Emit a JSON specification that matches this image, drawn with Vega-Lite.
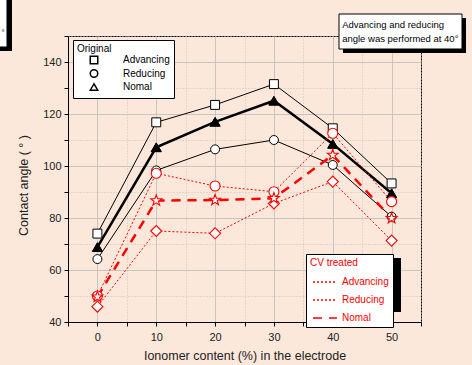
{
  "$schema": "https://vega.github.io/schema/vega-lite/v6.json",
  "width": 353,
  "height": 286,
  "autosize": "none",
  "padding": {"left": 68, "top": 36, "right": 51, "bottom": 43},
  "background": "#fce8da",
  "config": {
    "view": {"stroke": "black", "strokeWidth": 1, "fill": "#fce8da"},
    "font": "Liberation Sans"
  },
  "data": {
    "values": [
      {"g": "Original", "s": "Advancing", "x": 0, "y": 74.0},
      {"g": "Original", "s": "Advancing", "x": 10, "y": 116.8},
      {"g": "Original", "s": "Advancing", "x": 20, "y": 123.5},
      {"g": "Original", "s": "Advancing", "x": 30, "y": 131.5},
      {"g": "Original", "s": "Advancing", "x": 40, "y": 114.5},
      {"g": "Original", "s": "Advancing", "x": 50, "y": 93.3},
      {"g": "Original", "s": "Reducing", "x": 0, "y": 64.2},
      {"g": "Original", "s": "Reducing", "x": 10, "y": 98.3},
      {"g": "Original", "s": "Reducing", "x": 20, "y": 106.4},
      {"g": "Original", "s": "Reducing", "x": 30, "y": 110.0},
      {"g": "Original", "s": "Reducing", "x": 40, "y": 100.4},
      {"g": "Original", "s": "Reducing", "x": 50, "y": 80.5},
      {"g": "Original", "s": "Nomal", "x": 0, "y": 68.8},
      {"g": "Original", "s": "Nomal", "x": 10, "y": 107.2},
      {"g": "Original", "s": "Nomal", "x": 20, "y": 117.0},
      {"g": "Original", "s": "Nomal", "x": 30, "y": 125.1},
      {"g": "Original", "s": "Nomal", "x": 40, "y": 108.5},
      {"g": "Original", "s": "Nomal", "x": 50, "y": 89.5},
      {"g": "CV treated", "s": "Advancing", "x": 0, "y": 50.0},
      {"g": "CV treated", "s": "Advancing", "x": 10, "y": 97.2},
      {"g": "CV treated", "s": "Advancing", "x": 20, "y": 92.3},
      {"g": "CV treated", "s": "Advancing", "x": 30, "y": 90.1},
      {"g": "CV treated", "s": "Advancing", "x": 40, "y": 112.6},
      {"g": "CV treated", "s": "Advancing", "x": 50, "y": 86.3},
      {"g": "CV treated", "s": "Reducing", "x": 0, "y": 45.9},
      {"g": "CV treated", "s": "Reducing", "x": 10, "y": 75.0},
      {"g": "CV treated", "s": "Reducing", "x": 20, "y": 74.1},
      {"g": "CV treated", "s": "Reducing", "x": 30, "y": 85.6},
      {"g": "CV treated", "s": "Reducing", "x": 40, "y": 94.0},
      {"g": "CV treated", "s": "Reducing", "x": 50, "y": 71.3},
      {"g": "CV treated", "s": "Nomal", "x": 0, "y": 49.7},
      {"g": "CV treated", "s": "Nomal", "x": 10, "y": 86.7},
      {"g": "CV treated", "s": "Nomal", "x": 20, "y": 86.9},
      {"g": "CV treated", "s": "Nomal", "x": 30, "y": 87.6},
      {"g": "CV treated", "s": "Nomal", "x": 40, "y": 104.2},
      {"g": "CV treated", "s": "Nomal", "x": 50, "y": 79.9}
    ]
  },
  "layer": [
    {
      "transform": [{"filter": "datum.g === 'Original' && datum.s !== 'Nomal'"}],
      "mark": {"type": "line", "color": "black", "strokeWidth": 1},
      "encoding": {
        "x": {"field": "x", "type": "quantitative",
          "scale": {"domain": [-5, 55], "nice": false, "zero": false},
          "axis": {"values": [0, 10, 20, 30, 40, 50], "title": "Ionomer content (%) in the electrode",
            "grid": true, "gridColor": "#cbc5bf", "gridWidth": 1, "domainColor": "black", "tickColor": "black",
            "tickSize": 4, "labelFontSize": 11, "labelColor": "#222", "labelPadding": 5,
            "titleFontSize": 12.5, "titleFontWeight": "normal", "titleColor": "#222", "titlePadding": 7,
            "labelFont": "Liberation Sans", "titleFont": "Liberation Sans"}},
        "y": {"field": "y", "type": "quantitative",
          "scale": {"domain": [40, 150], "nice": false, "zero": false},
          "axis": {"values": [40, 60, 80, 100, 120, 140], "title": "Contact angle ( ° )",
            "grid": true, "gridColor": "#cbc5bf", "gridWidth": 1, "domainColor": "black", "tickColor": "black",
            "tickSize": 4, "labelFontSize": 11, "labelColor": "#222", "labelPadding": 3,
            "titleFontSize": 12.5, "titleFontWeight": "normal", "titleColor": "#222", "titlePadding": 12,
            "titleY": 149, "labelFont": "Liberation Sans", "titleFont": "Liberation Sans"}},
        "detail": {"field": "s"}
      }
    },
    {
      "transform": [{"filter": "datum.g === 'Original' && datum.s === 'Nomal'"}],
      "mark": {"type": "line", "color": "black", "strokeWidth": 2.5},
      "encoding": {
        "x": {"field": "x", "type": "quantitative", "axis": null},
        "y": {"field": "y", "type": "quantitative", "axis": null}
      }
    },
    {
      "transform": [{"filter": "datum.g === 'CV treated'"}],
      "mark": {"type": "line", "color": "#ff0000", "strokeWidth": 1},
      "encoding": {
        "x": {"field": "x", "type": "quantitative",
          "axis": {"orient": "bottom", "values": [-5, 5, 15, 25, 35, 45, 55], "title": null, "labels": false,
            "grid": true, "gridColor": "#c9c3bd", "gridDash": [1, 2], "domain": false, "tickColor": "black", "tickSize": 4}},
        "y": {"field": "y", "type": "quantitative",
          "axis": {"orient": "left", "values": [50, 70, 90, 110, 130, 150], "title": null, "labels": false,
            "grid": true, "gridColor": "#c9c3bd", "gridDash": [1, 2], "domain": false, "tickColor": "black", "tickSize": 4}},
        "strokeDash": {"field": "s", "type": "nominal", "sort": ["Advancing", "Reducing", "Nomal"],
          "scale": {"range": [[2, 2], [2, 2], [9, 7]]},
          "legend": {
            "title": "CV treated", "orient": "none", "legendX": 238, "legendY": 218,
            "fillColor": "white", "strokeColor": "black", "padding": 4,
            "titleFont": "Liberation Sans", "titleFontSize": 10, "titleFontWeight": "normal", "titleColor": "#ff0000", "titlePadding": 1,
            "labelFont": "Liberation Sans", "labelFontSize": 10, "labelColor": "#ff0000",
            "symbolSize": 576, "symbolStrokeWidth": 1.5, "symbolOffset": 2, "labelOffset": 4, "rowPadding": -19.5
          }}
      }
    },
    {
      "transform": [{"filter": "datum.g === 'CV treated' && datum.s === 'Nomal'"}],
      "mark": {"type": "line", "color": "#ff0000", "strokeWidth": 2.5, "strokeDash": [9, 7]},
      "encoding": {
        "x": {"field": "x", "type": "quantitative", "axis": null},
        "y": {"field": "y", "type": "quantitative", "axis": null}
      }
    },
    {
      "data": {"values": [{}]},
      "mark": {"type": "rect", "fill": "black"},
      "encoding": {
        "x": {"datum": -3.3, "type": "quantitative", "axis": null},
        "x2": {"datum": 11.83},
        "y": {"datum": 146.92, "type": "quantitative", "axis": null},
        "y2": {"datum": 126.54}
      }
    },
    {
      "data": {"values": [{}]},
      "mark": {"type": "rect", "fill": "black"},
      "encoding": {
        "x": {"datum": 36.13, "type": "quantitative", "axis": null},
        "x2": {"datum": 51.6},
        "y": {"datum": 64.6, "type": "quantitative", "axis": null},
        "y2": {"datum": 43.85}
      }
    },
    {
      "transform": [{"filter": "datum.g === 'Original'"}],
      "mark": {"type": "point", "filled": true, "fill": "white", "stroke": "black", "strokeWidth": 1, "opacity": 1, "size": 80},
      "encoding": {
        "x": {"field": "x", "type": "quantitative", "axis": null},
        "y": {"field": "y", "type": "quantitative", "axis": null},
        "shape": {"field": "s", "type": "nominal",
          "scale": {"domain": ["Advancing", "Reducing", "Nomal"], "range": ["square", "circle", "triangle-up"]},
          "legend": {
            "title": "Original", "orient": "none", "legendX": 5, "legendY": 4,
            "fillColor": "white", "strokeColor": "black", "padding": 4,
            "titleFont": "Liberation Sans", "titleFontSize": 10, "titleFontWeight": "normal", "titleColor": "black", "titlePadding": 1,
            "labelFont": "Liberation Sans", "labelFontSize": 10, "labelColor": "black",
            "symbolSize": 56, "symbolOffset": 12, "labelOffset": 24, "rowPadding": -0.5
          }}
      }
    },
    {
      "transform": [{"filter": "datum.g === 'Original' && datum.s === 'Nomal'"}],
      "mark": {"type": "point", "shape": "triangle-up", "filled": true, "fill": "black", "stroke": "black", "strokeWidth": 1, "opacity": 1, "size": 105},
      "encoding": {
        "x": {"field": "x", "type": "quantitative", "axis": null},
        "y": {"field": "y", "type": "quantitative", "axis": null}
      }
    },
    {
      "transform": [{"filter": "datum.g === 'CV treated' && datum.s === 'Advancing'"}],
      "mark": {"type": "point", "shape": "circle", "filled": true, "fill": "white", "stroke": "#ff0000", "strokeWidth": 1.1, "size": 100, "opacity": 1},
      "encoding": {
        "x": {"field": "x", "type": "quantitative", "axis": null},
        "y": {"field": "y", "type": "quantitative", "axis": null}
      }
    },
    {
      "transform": [{"filter": "datum.g === 'CV treated' && datum.s === 'Reducing'"}],
      "mark": {"type": "point", "shape": "diamond", "filled": true, "fill": "white", "stroke": "#ff0000", "strokeWidth": 1.1, "size": 121, "opacity": 1},
      "encoding": {
        "x": {"field": "x", "type": "quantitative", "axis": null},
        "y": {"field": "y", "type": "quantitative", "axis": null}
      }
    },
    {
      "transform": [{"filter": "datum.g === 'CV treated' && datum.s === 'Nomal'"}],
      "mark": {"type": "point", "shape": "M0,-1L0.235,-0.324L0.951,-0.309L0.38,0.124L0.588,0.809L0,0.4L-0.588,0.809L-0.38,0.124L-0.951,-0.309L-0.235,-0.324Z", "filled": true, "fill": "white", "stroke": "#ff0000", "strokeWidth": 1.1, "size": 130, "opacity": 1},
      "encoding": {
        "x": {"field": "x", "type": "quantitative", "axis": null},
        "y": {"field": "y", "type": "quantitative", "axis": null}
      }
    },
    {
      "data": {"values": [{}]},
      "mark": {"type": "rect", "fill": "black"},
      "encoding": {
        "x": {"datum": 41.74, "type": "quantitative", "axis": null},
        "x2": {"datum": 62.65},
        "y": {"datum": 156.92, "type": "quantitative", "axis": null},
        "y2": {"datum": 143.46}
      }
    },
    {
      "data": {"values": [{}]},
      "mark": {"type": "rect", "fill": "white", "stroke": "black", "strokeWidth": 1},
      "encoding": {
        "x": {"datum": 41.06, "type": "quantitative", "axis": null},
        "x2": {"datum": 61.97},
        "y": {"datum": 158.46, "type": "quantitative", "axis": null},
        "y2": {"datum": 145.0}
      }
    },
    {
      "data": {"values": [{}]},
      "mark": {"type": "text", "align": "left", "baseline": "alphabetic", "fontSize": 9.5, "lineHeight": 13.6, "font": "Liberation Sans", "color": "black",
        "text": ["Advancing and reducing", "angle was performed at 40°"]},
      "encoding": {
        "x": {"datum": 41.6, "type": "quantitative", "axis": null},
        "y": {"datum": 153.1, "type": "quantitative", "axis": null}
      }
    },
    {
      "data": {"values": [{}]},
      "mark": {"type": "rect", "fill": "black"},
      "encoding": {
        "x": {"datum": -20, "type": "quantitative", "axis": null},
        "x2": {"datum": -14.52},
        "y": {"datum": 168, "type": "quantitative", "axis": null},
        "y2": {"datum": 144.23}
      }
    },
    {
      "data": {"values": [{}]},
      "mark": {"type": "rect", "fill": "white", "stroke": "black", "strokeWidth": 1},
      "encoding": {
        "x": {"datum": -20, "type": "quantitative", "axis": null},
        "x2": {"datum": -15.37},
        "y": {"datum": 170, "type": "quantitative", "axis": null},
        "y2": {"datum": 145.77}
      }
    },
    {
      "data": {"values": [{}]},
      "mark": {"type": "text", "align": "left", "baseline": "alphabetic", "fontSize": 8, "font": "Liberation Sans", "color": "black", "text": "°"},
      "encoding": {
        "x": {"datum": -16.3, "type": "quantitative", "axis": null},
        "y": {"datum": 150.5, "type": "quantitative", "axis": null}
      }
    }
  ],
  "resolve": {
    "axis": {"x": "independent", "y": "independent"}
  }
}
